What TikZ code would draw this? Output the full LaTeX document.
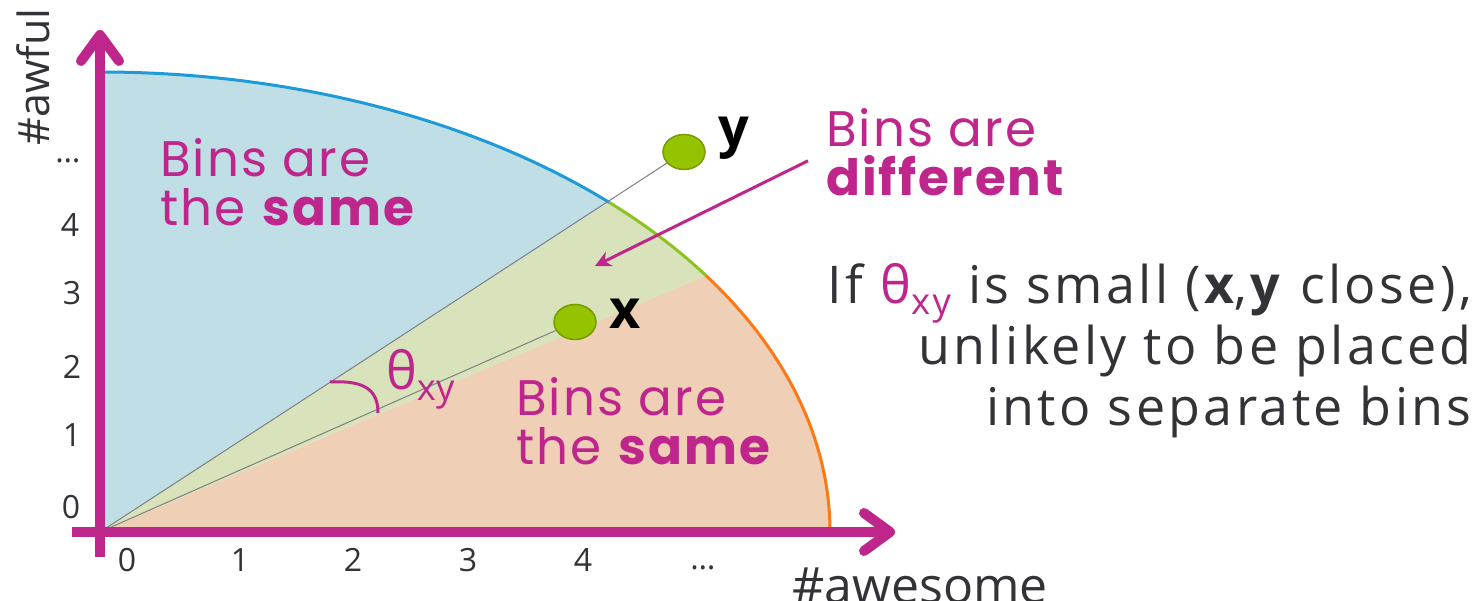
\documentclass[tikz,border=0pt]{standalone}
\usepackage{fontspec}
\setmainfont{Open Sans}
\newfontfamily\binsfont[LetterSpace=4]{Poppins}
\newfontfamily\rulefont[LetterSpace=6.5]{Open Sans}
\usetikzlibrary{positioning,calc,shapes.geometric,arrows.meta}
\definecolor{magb}{RGB}{190,38,140}
\definecolor{bluefill}{RGB}{192,222,230}
\definecolor{greenfill}{RGB}{216,226,187}
\definecolor{orangefill}{RGB}{239,208,182}
\definecolor{bluearc}{RGB}{30,155,215}
\definecolor{greenarc}{RGB}{140,195,30}
\definecolor{orangearc}{RGB}{255,120,20}
\definecolor{ptgreen}{RGB}{150,195,0}
\definecolor{txtgray}{RGB}{50,50,55}

\begin{document}
\begin{tikzpicture}[x=1pt,y=1pt,
  bins/.style={inner sep=0pt,align=left,text=magb,font=\binsfont\fontsize{50}{49}\selectfont},
  tick/.style={text=txtgray,font=\fontsize{32}{32}\selectfont},
  pt/.style={ellipse,draw=ptgreen!80!black,line width=1.5pt,fill=ptgreen,minimum width=42pt,minimum height=35pt}]
\useasboundingbox (0,0) rectangle (1477,601);
\coordinate (orig) at (100,69);
\coordinate (cut1) at ($(orig)+(33.9:730pt and 460pt)$);
\coordinate (cut2) at ($(orig)+(45.8:730pt and 460pt)$);

% the three bins
\fill[orangefill] (orig) -- ++(730,0) arc[start angle=0,end angle=33.9,x radius=730,y radius=460] -- cycle;
\fill[greenfill] (orig) -- (cut1) arc[start angle=33.9,end angle=45.8,x radius=730,y radius=460] -- cycle;
\fill[bluefill] (orig) -- (cut2) arc[start angle=45.8,end angle=90,x radius=730,y radius=460] -- cycle;
\draw[orangearc,line width=3pt] ($(orig)+(730,0)$) arc[start angle=0,end angle=33.9,x radius=730,y radius=460];
\draw[greenarc,line width=3pt] (cut1) arc[start angle=33.9,end angle=45.8,x radius=730,y radius=460];
\draw[bluearc,line width=3pt] (cut2) arc[start angle=45.8,end angle=90,x radius=730,y radius=460];

\node[pt] (pty) at (684,449) {};
\node[pt] (ptx) at (575,279) {};
\draw[gray,line width=1pt] (orig) -- (pty);
\draw[gray,line width=1pt] (orig) -- (ptx);

% axes
\coordinate (xa) at (72,69);
\coordinate (xb) at (895,69);
\coordinate (ya) at (100,44);
\coordinate (yb) at (100,571);
\draw[magb,line width=10pt,-{Straight Barb[length=26pt,width=38pt,round]}] (xa) -- (xb);
\draw[magb,line width=10pt,-{Straight Barb[length=26pt,width=38pt,round]}] (ya) -- (yb);

\node[tick] (x0) at (127,41) {0};
\node[tick] (x1) at (240,41) {1};
\node[tick] (x2) at (353,41) {2};
\node[tick] (x3) at (468,41) {3};
\node[tick] (x4) at (583,41) {4};
\node[tick] (x5) at (703,33) {\ldots};
\node[tick] (y0) at (71,94) {0};
\node[tick] (y1) at (72,166) {1};
\node[tick] (y2) at (72,234) {2};
\node[tick] (y3) at (72,308) {3};
\node[tick] (y4) at (70,376) {4};
\node[tick] (y5) at (68,440) {\ldots};
\node[rotate=90,text=txtgray,font=\fontsize{43}{43}\selectfont] (awful) at (33,524) {\#awful};
\node[anchor=base west,inner sep=0pt,text=txtgray,font=\fontsize{50}{50}\selectfont] (awesome) at (792,-3) {\#awesome};

% labels
\node[bins,anchor=north west] (same1) at (160,463) {Bins are\\the \textbf{same}};
\node[bins,anchor=north west] (same2) at (516,224) {Bins are\\the \textbf{same}};
\node[bins,anchor=north west] (diff) at (826,493) {Bins are\\\textbf{different}};
\node[font=\bfseries\fontsize{54}{54}\selectfont] (ylab) at (734,463) {y};
\node[font=\bfseries\fontsize{54}{54}\selectfont] (xlab) at (625,287) {x};
\node[anchor=base west,inner sep=0pt,text=magb,font=\fontsize{52}{52}\selectfont] (theta) at (386,211) {θ\textsubscript{xy}};
\coordinate (diffend) at (595,335);
\draw[magb,line width=3pt,shorten <=20pt,-{Stealth[length=16pt,width=16pt]}] (diff.west) -- (diffend);
\draw[magb,line width=3pt] (330,219) .. controls (366,221) and (378,210) .. (378,188);

\node[anchor=north east,align=right,inner sep=0pt,text=txtgray,font=\rulefont\fontsize{52}{61}\selectfont] (rule) at (1472,338)
  {If {\color{magb}θ\textsubscript{xy}} is small (\textbf{x},\textbf{y} close),\\unlikely to be placed\\into separate bins};
\end{tikzpicture}
\end{document}
